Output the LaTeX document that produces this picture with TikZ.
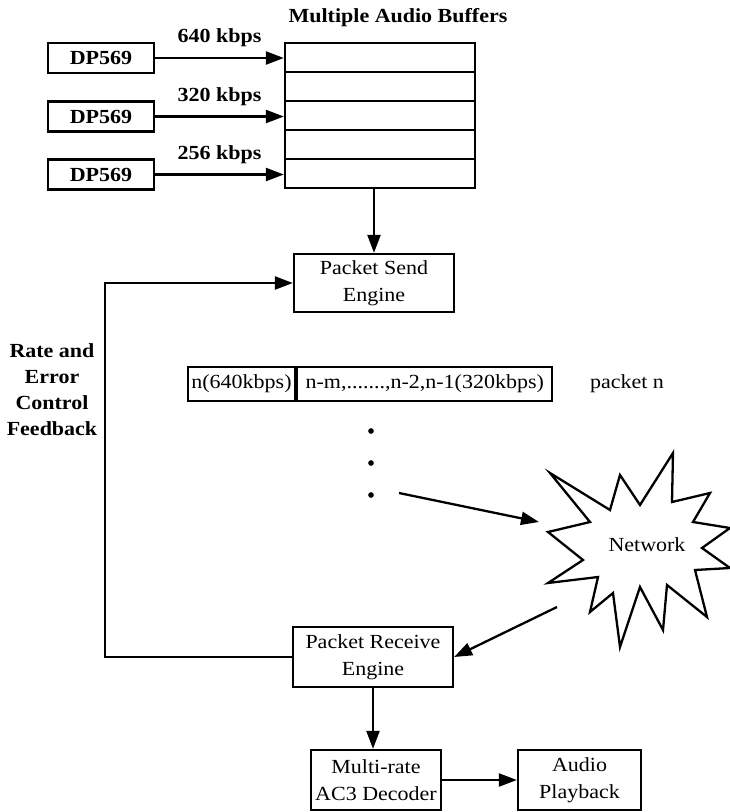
\documentclass[tikz,border=0pt]{standalone}
\usepackage{fontspec}
\setmainfont{Liberation Serif}[FakeStretch=1.1]
\usetikzlibrary{arrows.meta,positioning}

\begin{document}
\begin{tikzpicture}[x=1pt,y=-1pt,line width=2.3pt,
  txt/.style={font=\fontsize{20}{27}\selectfont},
  bold/.style={font=\fontsize{20}{26}\selectfont\bfseries},
  blk/.style={draw,txt,inner sep=0pt,align=center},
  arr/.style={-{Triangle[length=18pt,width=13pt]}}]
\useasboundingbox (0,0) rectangle (730,812);
% sources and buffers
\node[bold] (title) at (398,18) {Multiple Audio Buffers};
\foreach \i in {1,...,5}
  \node[blk,minimum width=190pt,minimum height=29pt] (buf\i) at (380,{28.5+29*\i}) {};
\foreach \i/\y/\r in {1/58/640,2/116.5/320,3/174.5/256}{
  \node[blk,bold,minimum width=106pt,minimum height=30pt] (dp\i) at (101,\y) {DP569};
  \draw[arr] (dp\i.east) -- (dp\i.east -| buf1.west)
    node[bold,midway,yshift=20pt] (rate\i) {\r\ kbps};
}
\node[blk,minimum width=160pt,minimum height=58pt] (send) at (374,283) {Packet Send\\Engine};
\draw[arr] (buf5.south -| send.north) -- (send.north);
% packet layout
\node[blk,minimum width=107pt,minimum height=34pt] (pk1) at (241.5,384) {n(640kbps)};
\node[blk,minimum width=255pt,minimum height=34pt,anchor=west] (pk2) at (pk1.east) {n-m,.......,n-2,n-1(320kbps)};
\node[txt] (pktn) at (627,384) {packet n};
\foreach \y [count=\k] in {431,463,495}
  \node[circle,fill,inner sep=2pt] (dot\k) at (371,\y) {};
% network cloud
\draw (550,473) -- (610,510) -- (620,475) -- (640,505) -- (673,453) -- (672,502)
  -- (710,493) -- (693,522) -- (730,528) -- (702,548) -- (730,568) -- (695,570)
  -- (707,617) -- (667,585) -- (663,630) -- (640,587) -- (620,647) -- (613,593)
  -- (590,612) -- (598,577) -- (548,583) -- (583,560) -- (548,532) -- (590,522) -- cycle;
\node[txt] (net) at (647,545) {Network};
\coordinate (pkout) at (399,493);
\coordinate (netin) at (539,522);
\coordinate (netout) at (557,607);
\draw[arr] (pkout) -- (netin);
% receiver side
\node[blk,minimum width=160pt,minimum height=60pt] (recv) at (373,657) {Packet Receive\\Engine};
\draw[arr] (netout) -- (recv.east);
\node[blk,minimum width=130pt,minimum height=60pt] (dec) at (376,780) {Multi-rate\\AC3 Decoder};
\node[blk,minimum width=123pt,minimum height=60pt] (play) at (579.5,780) {Audio\\Playback};
\draw[arr] (recv.south) -- (recv.south |- dec.north);
\draw[arr] (dec) -- (play);
% feedback loop
\coordinate (fbk) at (105,0);
\draw[arr] (recv.west) -- (recv.west -| fbk) |- (send.west);
\node[bold,align=center] (fbtxt) at (52,390) {Rate and\\Error\\Control\\Feedback};
\end{tikzpicture}
\end{document}
